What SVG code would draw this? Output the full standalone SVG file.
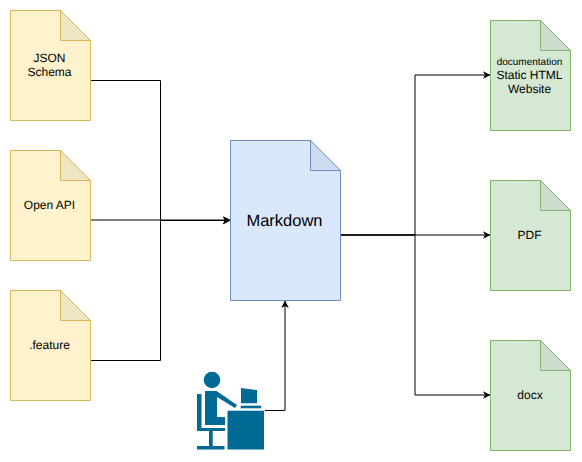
<svg xmlns="http://www.w3.org/2000/svg" width="582" height="462" viewBox="0 0 582 462">
<defs>
<marker id="arr" markerWidth="8" markerHeight="8" refX="7" refY="4" orient="auto" markerUnits="userSpaceOnUse"><path d="M0 0.2L7.5 4L0 7.8L2 4Z" fill="#000"/></marker>
</defs>
<style>
.y{fill:#fff2cc;stroke:#d6b656}
.yf{fill:#f0e5c3;stroke:#d6b656}
.g{fill:#d5e8d4;stroke:#82b366}
.gf{fill:#cadccb;stroke:#82b366}
.b{fill:#dae8fc;stroke:#6c8ebf}
.bf{fill:#cedcef;stroke:#6c8ebf}
text{font-family:"Liberation Sans",Arial,Helvetica,sans-serif;font-size:12px;fill:#000;text-anchor:middle;text-rendering:geometricPrecision}
.c{fill:none;stroke:#000;stroke-width:1;marker-end:url(#arr)}
.p{fill:#006994}
</style>
<g id="connectors">
<path class="c" d="M90.500 80.500H160.500V220.500H230"/>
<path class="c" d="M90.500 220H230"/>
<path class="c" d="M90.500 360.500H160.500V220.500H230"/>
<path class="c" d="M340.500 235H415V75H490"/>
<path class="c" d="M340.500 235H490"/>
<path class="c" d="M340.500 235H415V395H490"/>
<path class="c" d="M265 410.500H285V301"/>
</g>
<g id="json-schema"><path class="y" d="M10.500 10.500H60.500L90.500 40.500V120.500H10.500Z"/><path class="yf" d="M60.500 10.500V40.500H90.500Z"/><text x="49.500" y="62">JSON</text><text x="49.500" y="76">Schema</text></g>
<g id="open-api"><path class="y" d="M10.500 150.500H60.500L90.500 180.500V260.500H10.500Z"/><path class="yf" d="M60.500 150.500V180.500H90.500Z"/><text x="49.500" y="209">Open API</text></g>
<g id="feature"><path class="y" d="M10.500 290.500H60.500L90.500 320.500V400.500H10.500Z"/><path class="yf" d="M60.500 290.500V320.500H90.500Z"/><text x="49.500" y="349">.feature</text></g>
<g id="markdown"><path class="b" d="M230.500 140.500H310.500L340.500 170.500V300.500H230.500Z"/><path class="bf" d="M310.500 140.500V170.500H340.500Z"/><text x="284.500" y="226" style="font-size:16.500px">Markdown</text></g>
<g id="website"><path class="g" d="M490.500 20.500H540.500L570.500 50.500V130.500H490.500Z"/><path class="gf" d="M540.500 20.500V50.500H570.500Z"/><text x="529.500" y="65" style="font-size:10px">documentation</text><text x="529.500" y="79">Static HTML</text><text x="529.500" y="93">Website</text></g>
<g id="pdf"><path class="g" d="M490.500 180.500H540.500L570.500 210.500V290.500H490.500Z"/><path class="gf" d="M540.500 180.500V210.500H570.500Z"/><text x="529.500" y="239">PDF</text></g>
<g id="docx"><path class="g" d="M490.500 340.500H540.500L570.500 370.500V450.500H490.500Z"/><path class="gf" d="M540.500 340.500V370.500H570.500Z"/><text x="530" y="399">docx</text></g>
<g id="user">
<circle class="p" cx="212" cy="380" r="8.300"/>
<path class="p" d="M205 391H216.500L237 405L235 408L217 397V417H225V425H205Z"/>
<path class="p" d="M197 394H201.500V428H225V431H197Z"/>
<rect class="p" x="209" y="431" width="3.700" height="15"/>
<rect class="p" x="197" y="446" width="27.500" height="3.500"/>
<rect class="p" x="227.500" y="410.700" width="36.500" height="38.800"/>
<path class="p" d="M241 388L257 390V403.300H241Z"/>
<rect class="p" x="240.700" y="405.700" width="20.600" height="2.600"/>
</g>
</svg>
